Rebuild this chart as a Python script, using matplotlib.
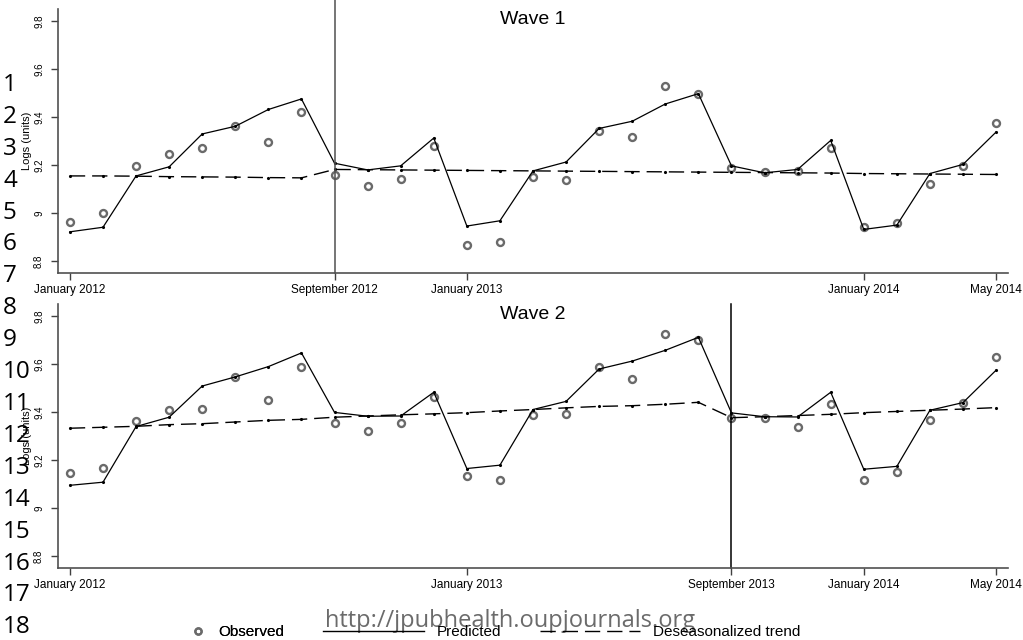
import matplotlib
matplotlib.use("Agg")
import matplotlib.pyplot as plt
from matplotlib.lines import Line2D

plt.rcParams['font.family'] = ['Liberation Sans', 'DejaVu Sans']

months = list(range(29))

w1_ticks = [0, 8, 12, 24, 28]
w1_ticklabels = ['January 2012', 'September 2012', 'January 2013', 'January 2014', 'May 2014']
w2_ticks = [0, 12, 20, 24, 28]
w2_ticklabels = ['January 2012', 'January 2013', 'September 2013', 'January 2014', 'May 2014']

w1_observed = [8.962, 9.000, 9.196, 9.246, 9.270, 9.361, 9.295, 9.421, 9.156, 9.114,
               9.142, 9.279, 8.865, 8.877, 9.150, 9.138, 9.343, 9.317, 9.529, 9.496,
               9.185, 9.172, 9.175, 9.270, 8.943, 8.957, 9.121, 9.196, 9.375]
w1_predicted = [8.921, 8.940, 9.154, 9.192, 9.329, 9.361, 9.431, 9.475, 9.207, 9.179,
                9.196, 9.312, 8.945, 8.967, 9.175, 9.212, 9.352, 9.382, 9.454, 9.497,
                9.196, 9.167, 9.181, 9.302, 8.931, 8.949, 9.164, 9.202, 9.337]
w1_trend = [9.154, 9.154, 9.153, 9.151, 9.150, 9.149, 9.147, 9.146, 9.181, 9.180,
            9.179, 9.178, 9.177, 9.176, 9.175, 9.174, 9.173, 9.172, 9.171, 9.170,
            9.169, 9.168, 9.167, 9.166, 9.164, 9.163, 9.162, 9.161, 9.160]

w2_observed = [9.144, 9.165, 9.364, 9.410, 9.414, 9.544, 9.450, 9.589, 9.353, 9.321,
               9.354, 9.462, 9.133, 9.118, 9.388, 9.392, 9.589, 9.538, 9.725, 9.700,
               9.376, 9.376, 9.338, 9.433, 9.115, 9.150, 9.368, 9.439, 9.629]
w2_predicted = [9.094, 9.107, 9.339, 9.378, 9.508, 9.546, 9.589, 9.646, 9.398, 9.382,
                9.383, 9.482, 9.164, 9.178, 9.410, 9.444, 9.579, 9.612, 9.657, 9.711,
                9.396, 9.380, 9.379, 9.482, 9.161, 9.173, 9.407, 9.439, 9.574]
w2_trend = [9.332, 9.336, 9.340, 9.347, 9.351, 9.358, 9.365, 9.369, 9.378, 9.383,
            9.388, 9.392, 9.397, 9.404, 9.410, 9.417, 9.423, 9.426, 9.432, 9.440,
            9.376, 9.380, 9.385, 9.390, 9.397, 9.402, 9.407, 9.412, 9.418]

yticks = [8.8, 9.0, 9.2, 9.4, 9.6, 9.8]
yticklabels = ['8.8', '9', '9.2', '9.4', '9.6', '9.8']

W, H = 1023, 640
fig = plt.figure(figsize=(W / 100, H / 100), dpi=100, facecolor='white')

panels = [
    ("Wave 1", w1_observed, w1_predicted, w1_trend, w1_ticks, w1_ticklabels, 8, '#505050', 9, 273.3),
    ("Wave 2", w2_observed, w2_predicted, w2_trend, w2_ticks, w2_ticklabels, 20, 'black', 304, 568.3),
]

for title, obs, pred, trend, xt, xtl, vx, vcol, top_px, bot_px in panels:
    ax = fig.add_axes([58 / W, 1 - bot_px / H, 950 / W, (bot_px - top_px) / H])
    ax.plot(months, obs, linestyle='none', marker='o', markersize=5, mfc='none',
            mec='#6a6a6a', mew=1.7)
    ax.plot(months, pred, color='black', lw=0.9, marker='.', markersize=2.5)
    ax.plot(months, trend, color='black', lw=1.0, dashes=(11, 5), marker='.', markersize=2.5)
    extend = 1.035 if title == "Wave 1" else 1.0
    ax.axvline(vx, ymin=0, ymax=extend, color=vcol, lw=1.1, clip_on=False)

    ax.set_xlim(-0.36, 28.36)
    ax.set_ylim(8.748, 9.85)
    ax.set_xticks(xt)
    ax.set_xticklabels(xtl, fontsize=8.5)
    ax.set_yticks(yticks)
    ax.set_yticklabels(yticklabels, fontsize=7, rotation=90, va='center')
    ax.tick_params(axis='x', length=5, width=1, color='#404040', pad=3)
    ax.tick_params(axis='y', length=5, width=1, color='#404040', pad=5)
    for s in ['top', 'right']:
        ax.spines[s].set_visible(False)
    for s in ['left', 'bottom']:
        ax.spines[s].set_color('#505050')
        ax.spines[s].set_linewidth(1.2)

    ax.set_ylabel('Logs (units)', fontsize=8)
    ax.yaxis.set_label_coords(-0.0274, 0.5)
    ax.text(0.5, 1 - 10.5 / (bot_px - top_px), title, transform=ax.transAxes,
            ha='center', va='center', fontsize=14)

# line numbers of the manuscript page
for n in range(1, 19):
    y = 85 + (n - 1) * 31.9
    fig.text(3 / W, 1 - y / H, str(n), fontsize=17.5, family='Open Sans',
             ha='left', va='center', color='black')

# legends
h_obs = Line2D([], [], linestyle='none', marker='o', markersize=4.5, mfc='none',
               mec='#6a6a6a', mew=1.6)
h_pred = Line2D([], [], color='black', lw=1.0)
h_trend = Line2D([], [], color='black', lw=1.0, dashes=(11, 5))

leg1 = fig.legend([h_obs], ['Observed'], loc='center left',
                  bbox_to_anchor=(190 / W, 1 - 632 / H), frameon=False,
                  borderpad=0, borderaxespad=0, handlelength=1.0,
                  handletextpad=0.85, fontsize=11)
fig.add_artist(leg1)
fig.legend([h_pred, h_trend], ['Predicted', 'Deseasonalized trend'], loc='center left',
           bbox_to_anchor=(323 / W, 1 - 632 / H), frameon=False, ncol=2,
           borderpad=0, borderaxespad=0, handlelength=6.6, handletextpad=0.85,
           columnspacing=2.5, fontsize=11)

fig.text(325 / W, 1 - 627 / H, 'http://jpubhealth.oupjournals.org', fontsize=17,
         family='Open Sans', color='#6b6b6b', ha='left', va='baseline')

fig.savefig('out.png', dpi=100, facecolor='white')
